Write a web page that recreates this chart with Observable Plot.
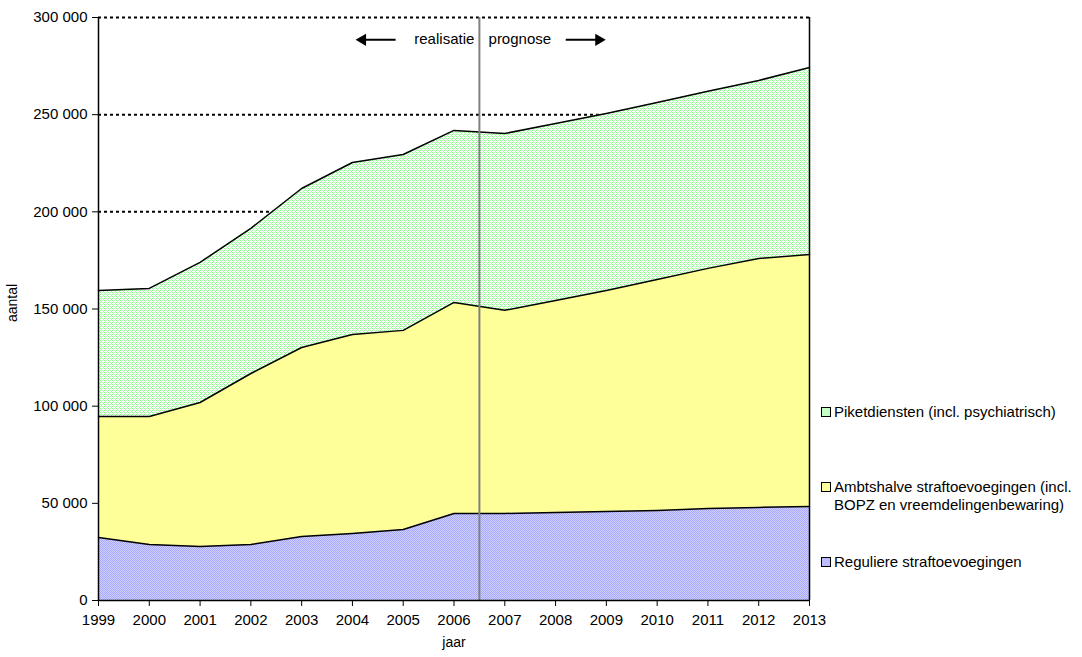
<!DOCTYPE html>
<html>
<head>
<meta charset="utf-8">
<script src="https://cdn.jsdelivr.net/npm/d3@7"></script>
<script src="https://cdn.jsdelivr.net/npm/@observablehq/plot@0.6"></script>
<style>
  html, body { margin: 0; padding: 0; background: #fff; }
  #wrap { position: relative; width: 1082px; height: 657px; font-family: "Liberation Sans", Arial, sans-serif; }
  .leg { position: absolute; left: 821px; font-size: 15px; color: #000; line-height: 18px; }
  .sw { position: absolute; left: 0; top: 4px; width: 8px; height: 8px; border: 1px solid #000; }
  .lt { margin-left: 13px; }
</style>
</head>
<body>
<div id="wrap"></div>
<script>
const years = [1999,2000,2001,2002,2003,2004,2005,2006,2007,2008,2009,2010,2011,2012,2013];
const seriesNames = ["Reguliere straftoevoegingen", "Ambtshalve straftoevoegingen (incl. BOPZ en vreemdelingenbewaring)", "Piketdiensten (incl. psychiatrisch)"];
const reguliere  = [32400, 28800, 27800, 28800, 32900, 34500, 36500, 44800, 44800, 45300, 45800, 46300, 47300, 47900, 48400];
const ambtshalve = [62300, 65900, 74100, 88000, 97300, 102400, 102500, 108600, 104500, 109100, 113700, 118900, 123600, 128100, 129600];
const piket      = [64800, 65900, 72100, 74700, 81800, 88500, 90500, 88500, 91000, 91100, 91100, 91100, 91100, 91600, 96300];
const gridValues = [200000, 250000, 300000];
const splitYear = [2006.5];
const annotLeft = [{label: "realisatie", x: 2006.4, y: 289000}];
const annotRight = [{label: "prognose", x: 2006.68, y: 289000}];
const arrows = [
  {x1: 2004.85, x2: 2004.2, y: 288500, dir: -90},
  {x1: 2008.2, x2: 2008.85, y: 288500, dir: 90}
];

const seriesValues = [reguliere, ambtshalve, piket];
const fills = ["url(#patBlue)", "url(#patYellow)", "url(#patGreen)"];
const data = [];
seriesNames.forEach((s, i) => years.forEach((yr, j) => data.push({year: yr, value: seriesValues[i][j], series: s, fill: fills[i]})));

const fmt = d => d3.format(",")(d).replace(/,/g, " ");

const plot = Plot.plot({
  width: 1082,
  height: 657,
  marginLeft: 98,
  marginRight: 273,
  marginTop: 17,
  marginBottom: 57,
  style: {fontFamily: "'Liberation Sans', Arial, sans-serif", fontSize: "15px", color: "#000", background: "#fff"},
  x: {domain: [1999, 2013], label: null},
  y: {domain: [0, 300000], label: null},
  marks: [
    Plot.ruleY(gridValues, {stroke: "#000", strokeWidth: 2, strokeDasharray: "3,3"}),
    Plot.areaY(data, {x: "year", y: "value", z: "series", fill: "fill", order: null}),
    Plot.lineY(data, Plot.stackY2({x: "year", y: "value", z: "series", order: null, stroke: "#000", strokeWidth: 1.5})),
    Plot.ruleX(splitYear, {y1: 0, y2: 300000, stroke: "#808080", strokeWidth: 2}),
    Plot.ruleX([1999, 2013], {y1: 0, y2: 300000, stroke: "#000", strokeWidth: 1.5}),
    Plot.ruleY([0], {stroke: "#000", strokeWidth: 1.5}),
    Plot.link(arrows, {x1: "x1", x2: "x2", y1: "y", y2: "y", stroke: "#000", strokeWidth: 2}),
    Plot.dot(arrows, {x: "x2", y: "y", symbol: "triangle", r: 4.5, fill: "#000", stroke: null, rotate: "dir"}),
    Plot.text(annotLeft, {x: "x", y: "y", text: "label", textAnchor: "end", fontSize: 15, fill: "#000"}),
    Plot.text(annotRight, {x: "x", y: "y", text: "label", textAnchor: "start", fontSize: 15, fill: "#000"}),
    Plot.axisY({ticks: d3.range(0, 300001, 50000), tickFormat: fmt, tickSize: 6, tickPadding: 5, label: null, fontSize: 15}),
    Plot.axisX({ticks: years, tickFormat: "d", tickSize: 6, tickPadding: 8, label: null, fontSize: 15}),
    Plot.text(["aantal"], {frameAnchor: "left", textAnchor: "middle", dx: -86, dy: -6, rotate: -90, fontSize: 14, fill: "#000"}),
    Plot.text(["jaar"], {frameAnchor: "bottom", dy: 46, fontSize: 14, fill: "#000"})
  ]
});

// patterns
const ns = "http://www.w3.org/2000/svg";
const defs = document.createElementNS(ns, "defs");
defs.innerHTML = `
  <pattern id="patGreen" width="4" height="4" patternUnits="userSpaceOnUse">
    <rect width="4" height="4" fill="#ffffff"/>
    <rect x="0" y="0" width="1" height="1" fill="#88ff88"/>
    <rect x="2" y="0" width="1" height="1" fill="#bbffbb"/>
    <rect x="1" y="1" width="1" height="1" fill="#99ff99"/>
    <rect x="0" y="2" width="1" height="1" fill="#88ff88"/>
    <rect x="2" y="2" width="1" height="1" fill="#bbffbb"/>
    <rect x="3" y="3" width="1" height="1" fill="#99ff99"/>
  </pattern>
  <pattern id="patBlue" width="2" height="2" patternUnits="userSpaceOnUse">
    <rect width="2" height="2" fill="#d0d0ff"/>
    <rect x="0" y="0" width="1" height="1" fill="#a8a8ff"/>
    <rect x="1" y="1" width="1" height="1" fill="#a8a8ff"/>
  </pattern>
  <pattern id="patYellow" width="2" height="2" patternUnits="userSpaceOnUse">
    <rect width="2" height="2" fill="#ffff99"/>
  </pattern>`;
plot.insertBefore(defs, plot.firstChild);

const wrap = document.getElementById("wrap");
wrap.appendChild(plot);

const legendItems = [
  {name: seriesNames[2], top: 403, color: "#c4ffc4", lines: ["Piketdiensten (incl. psychiatrisch)"]},
  {name: seriesNames[1], top: 478, color: "#ffff99", lines: ["Ambtshalve straftoevoegingen (incl.", "BOPZ en vreemdelingenbewaring)"]},
  {name: seriesNames[0], top: 553, color: "#bcbcff", lines: ["Reguliere straftoevoegingen"]}
];
legendItems.forEach(it => {
  const d = document.createElement("div");
  d.className = "leg";
  d.style.top = it.top + "px";
  const sw = document.createElement("div");
  sw.className = "sw";
  sw.style.background = it.color;
  d.appendChild(sw);
  const t = document.createElement("div");
  t.className = "lt";
  t.innerHTML = it.lines.join("<br>");
  d.appendChild(t);
  wrap.appendChild(d);
});
</script>
</body>
</html>
